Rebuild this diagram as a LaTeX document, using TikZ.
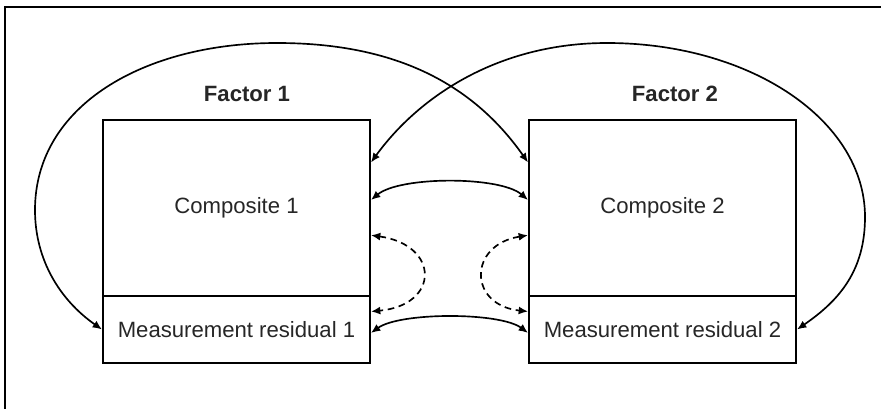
\documentclass[tikz,border=0pt]{standalone}
\usepackage{fontspec}
\setmainfont{Liberation Sans}
\usetikzlibrary{arrows.meta,calc}
\begin{document}
\begin{tikzpicture}[x=0.75pt,y=-0.75pt,
  box/.style={draw=black, line width=1.5pt, rectangle, inner sep=0pt,
    minimum width=200.25pt, text=black!85, font=\fontsize{16.6}{20}\selectfont},
  compbox/.style={box, minimum height=132pt},
  resbox/.style={box, minimum height=50.25pt},
  factorlabel/.style={text=black!85, font=\fontsize{16.6}{20}\selectfont\bfseries},
  conn/.style={line width=1.25pt, {Latex[length=7pt,width=6pt]}-{Latex[length=7pt,width=6pt]}},
  dconn/.style={conn, dash pattern=on 5pt off 3.5pt}]
\useasboundingbox (0,0) rectangle (881,409);
% frame (only left and top edges visible)
\draw[line width=1.6pt] (5,409) -- (5,7) -- (881,7);
% boxes
\node[compbox] (c1) at (236.5,208) {Composite 1};
\node[resbox] (r1) at (236.5,329.5) {Measurement residual 1};
\node[compbox] (c2) at (662.5,208) {Composite 2};
\node[resbox] (r2) at (662.5,329.5) {Measurement residual 2};
\node[factorlabel] (f1) at (247,94) {Factor 1};
\node[factorlabel] (f2) at (675,94) {Factor 2};
% big arcs
\draw[conn] (r1.west) .. controls (60,300) and (35,260) .. (35,210)
  .. controls (35,105) and (145,43) .. (277,43)
  .. controls (390,43) and (470,80) .. ($(c2.north west)!0.244!(c2.south west)$);
\draw[conn] ($(c1.north east)!0.244!(c1.south east)$) .. controls (420,95) and (500,43) .. (607,43)
  .. controls (750,43) and (865,120) .. (865,217)
  .. controls (865,270) and (840,300) .. (r2.east);
% composite link
\draw[conn] ($(c1.north east)!0.455!(c1.south east)$) .. controls (400,176) and (500,176) .. ($(c2.north west)!0.455!(c2.south west)$);
% residual link
\draw[conn] ($(r1.north east)!0.55!(r1.south east)$) .. controls (400,312) and (500,312) .. ($(r2.north west)!0.55!(r2.south west)$);
% dashed within-factor links
\draw[dconn] ($(c1.north east)!0.653!(c1.south east)$) .. controls (440,245) and (440,305) .. ($(r1.north east)!0.239!(r1.south east)$);
\draw[dconn] ($(c2.north west)!0.653!(c2.south west)$) .. controls (468,245) and (468,305) .. ($(r2.north west)!0.239!(r2.south west)$);
\end{tikzpicture}
\end{document}
